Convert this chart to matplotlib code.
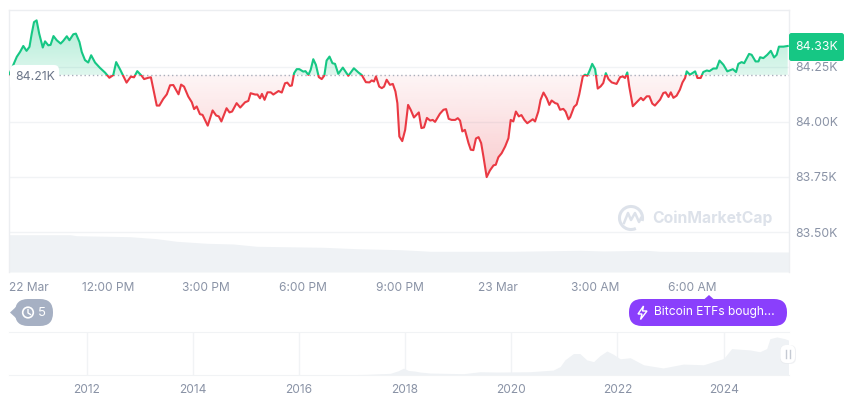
import matplotlib
matplotlib.use('Agg')
import matplotlib.pyplot as plt
from matplotlib.patches import FancyBboxPatch, Rectangle, Circle, Polygon, Arc
import numpy as np

plt.rcParams['font.family'] = ['Inter', 'DejaVu Sans']

# hours since 22 Mar 00:00, price in thousand USD
hours = [8.96,9.08,9.19,9.29,9.39,9.49,9.58,9.65,9.72,9.80,9.88,9.99,10.06,10.16,10.23,10.32,10.42,10.54,10.62,10.73,
         10.81,10.93,11.01,11.12,11.19,11.29,11.39,11.48,11.60,11.75,11.91,12.04,12.16,12.25,12.37,12.49,12.57,12.70,12.80,12.90,
         13.04,13.11,13.24,13.32,13.42,13.50,13.58,13.70,13.81,13.91,14.01,14.17,14.25,14.34,14.47,14.58,14.65,14.73,14.83,14.91,
         15.07,15.22,15.33,15.41,15.49,15.65,15.74,15.82,15.96,16.07,16.22,16.32,16.39,16.53,16.60,16.68,16.74,16.82,16.91,17.01,
         17.09,17.25,17.35,17.45,17.52,17.60,17.66,17.73,17.81,17.89,18.01,18.08,18.17,18.24,18.32,18.40,18.49,18.58,18.66,18.73,
         18.82,18.91,18.99,19.09,19.23,19.40,19.57,19.71,19.81,19.94,20.05,20.12,20.19,20.25,20.35,20.43,20.50,20.58,20.68,20.77,
         20.85,20.91,20.97,21.06,21.15,21.24,21.32,21.42,21.57,21.65,21.73,21.82,21.92,22.00,22.07,22.22,22.33,22.41,22.49,22.58,
         22.69,22.77,22.84,22.91,22.99,23.10,23.17,23.25,23.33,23.41,23.49,23.56,23.66,23.76,23.87,23.94,24.02,24.12,24.23,24.33,
         24.40,24.48,24.56,24.65,24.73,24.82,24.91,25.08,25.15,25.25,25.32,25.41,25.51,25.59,25.66,25.77,25.84,25.92,26.02,26.09,
         26.18,26.23,26.28,26.35,26.43,26.51,26.62,26.69,26.76,26.84,26.91,27.00,27.08,27.17,27.25,27.33,27.41,27.51,27.66,27.77,
         27.85,27.92,27.99,28.05,28.16,28.28,28.41,28.48,28.59,28.67,28.76,28.84,29.00,29.10,29.17,29.26,29.33,29.41,29.51,29.61,
         29.69,29.77,29.82,29.92,30.08,30.15,30.25,30.33,30.44,30.52,30.64,30.74,30.83,30.95,31.07,31.24,31.34,31.41,31.51,31.59,
         31.74,31.82,31.94,32.03,32.08,32.18,32.30,32.41,32.51,32.59,32.66,32.80,32.93]
prices = [84.215,84.256,84.294,84.316,84.343,84.321,84.339,84.399,84.451,84.459,84.399,84.336,84.364,84.346,84.348,84.388,84.369,84.354,84.366,84.387,
          84.369,84.396,84.399,84.361,84.316,84.279,84.268,84.301,84.268,84.244,84.222,84.199,84.211,84.270,84.237,84.201,84.177,84.204,84.201,84.229,
          84.207,84.193,84.199,84.201,84.129,84.073,84.073,84.103,84.124,84.165,84.166,84.124,84.168,84.159,84.114,84.088,84.057,84.069,84.034,84.031,
          83.982,84.051,84.028,84.024,84.001,84.061,84.042,84.046,84.084,84.064,84.088,84.094,84.129,84.123,84.123,84.106,84.126,84.099,84.133,84.133,
          84.123,84.139,84.132,84.174,84.177,84.162,84.164,84.220,84.238,84.238,84.227,84.229,84.212,84.235,84.283,84.258,84.202,84.193,84.209,84.277,
          84.295,84.265,84.262,84.217,84.245,84.208,84.242,84.223,84.212,84.179,84.178,84.187,84.182,84.205,84.159,84.152,84.159,84.190,84.167,84.171,
          84.137,84.084,83.933,83.912,83.963,84.076,84.054,84.019,84.042,83.971,83.974,84.017,84.005,84.008,83.999,84.036,84.054,84.057,84.013,84.008,
          84.008,84.016,84.005,83.956,83.963,83.903,83.873,83.871,83.924,83.930,83.903,83.842,83.749,83.779,83.802,83.805,83.839,83.857,83.888,83.925,
          84.008,84.001,84.046,84.024,84.030,84.008,83.993,84.011,84.001,84.046,84.099,84.132,84.106,84.076,84.096,84.084,84.081,84.054,84.058,84.046,
          84.011,84.020,84.040,84.067,84.078,84.123,84.205,84.213,84.208,84.235,84.262,84.238,84.150,84.160,84.175,84.220,84.193,84.178,84.171,84.202,
          84.205,84.198,84.223,84.160,84.070,84.088,84.108,84.097,84.115,84.115,84.082,84.073,84.100,84.130,84.133,84.112,84.133,84.108,84.118,84.145,
          84.178,84.198,84.228,84.213,84.228,84.198,84.198,84.225,84.232,84.229,84.241,84.241,84.277,84.258,84.228,84.238,84.225,84.262,84.270,84.265,
          84.307,84.303,84.273,84.273,84.292,84.288,84.303,84.321,84.291,84.303,84.340,84.340,84.343]
base_price = 84.212

volume_hours = [8.95,10.83,11.03,12.68,13.50,14.11,15.04,15.86,16.58,17.40,18.63,19.66,20.99,21.61,21.92,24.49,26.54,27.26,28.59,29.0,32.97]
volume = [37.3,37.3,36.3,35.3,33.3,30.7,28.7,28,25.7,25.3,24.7,23.3,22.3,21.3,20.7,20.7,21.7,21,21.7,20.7,20]

y_ticks = [84.25,84.0,83.75,83.5]
y_labels = ['84.25K','84.00K','83.75K','83.50K']
x_ticks = [9.57,12,15,18,21,24,27,30]
x_labels = ['22 Mar','12:00 PM','3:00 PM','6:00 PM','9:00 PM','23 Mar','3:00 AM','6:00 AM']

# long range navigator, price in thousand USD
nav_years = [2010.54,2016.65,2017.28,2017.72,2017.87,2017.97,2018.06,2018.19,2018.28,2018.47,2019.10,2019.41,2019.73,2020.35,2020.79,2020.92,2021.01,2021.17,2021.29,
             2021.42,2021.55,2021.67,2021.80,2021.92,2022.05,2022.24,2022.49,2022.86,2023.24,2023.62,2024.0,2024.15,2024.50,2024.68,2024.81,2024.87,2025.0,2025.15,2025.22]
nav_price = [0,0,1.9,4.7,12,19.5,13,11,8.4,5.6,3.7,9.3,8.4,9.3,14,24,43,61,61,
             43,38,55,68,59,46,49,29,20,31,29,47,75,71,66,75,103,108,103,99]
nav_ticks = [2012,2014,2016,2018,2020,2022,2024]

GREEN = '#16c784'
RED = '#ea3943'
GRAY = '#8a93a6'
GRID = '#f1f3f5'
W, H = 860, 401


def px_axes(x0, y0, x1, y1):
    return fig.add_axes([x0/W, 1-y1/H, (x1-x0)/W, (y1-y0)/H])


def gradient(ax, ylo, yhi, color, alo, ahi, clip):
    # vertical fade, alo at the bottom and ahi at the top
    rgb = matplotlib.colors.to_rgb(color)
    img = np.zeros((128, 1, 4))
    img[..., :3] = rgb
    img[..., 3] = np.linspace(ahi, alo, 128)[:, None]
    im = ax.imshow(img, extent=(ax.get_xlim()[0], ax.get_xlim()[1], ylo, yhi), aspect='auto', zorder=1)
    im.set_clip_path(clip.get_paths()[0], transform=ax.transData)


fig = plt.figure(figsize=(8.6,4.01), dpi=100)

# volume behind the price line
vol = px_axes(9, 232, 789, 272)
vol.fill_between(volume_hours, volume, 0, color='#eff2f5', lw=0)
vol.set_xlim(8.95,32.97)
vol.set_ylim(0,40)
vol.axis('off')

ax = px_axes(9, 10, 789, 272)
ax.patch.set_alpha(0)
xlim = (8.95,32.97)
ylim = (83.319,84.506)
ax.set_xlim(xlim)
ax.set_ylim(ylim)

p = np.array(prices)
up = ax.fill_between(hours, np.maximum(p, base_price), base_price, alpha=0, lw=0)
down = ax.fill_between(hours, np.minimum(p, base_price), base_price, alpha=0, lw=0)
gradient(ax, base_price, 84.46, GREEN, 0.14, 0.34, up)
gradient(ax, 83.75, base_price, RED, 0.26, 0.05, down)
ax.set_xlim(xlim)
ax.set_ylim(ylim)

ax.axhline(base_price, color='#a9afbb', lw=1, ls=(0,(1,2)), zorder=2)
line_up, = ax.plot(hours, prices, color=GREEN, lw=1.5, zorder=3, solid_joinstyle='round')
line_down, = ax.plot(hours, prices, color=RED, lw=1.5, zorder=3, solid_joinstyle='round')
line_up.set_clip_path(Rectangle((xlim[0],base_price), xlim[1]-xlim[0], ylim[1]-base_price, transform=ax.transData))
line_down.set_clip_path(Rectangle((xlim[0],ylim[0]), xlim[1]-xlim[0], base_price-ylim[0], transform=ax.transData))

ax.yaxis.tick_right()
ax.set_yticks(y_ticks)
ax.set_yticklabels(y_labels)
ax.set_xticks(x_ticks)
ax.set_xticklabels(x_labels)
ax.tick_params(axis='y', length=0, pad=4.5, labelsize=8.8, labelcolor=GRAY)
ax.tick_params(axis='x', length=0, pad=7, labelsize=8.6, labelcolor=GRAY)
ax.yaxis.grid(True, color=GRID, lw=1, zorder=0)
ax.set_axisbelow(True)
for s in ['top','left','right']:
    ax.spines[s].set_color('#eceef1')
    ax.spines[s].set_linewidth(1)
ax.spines['bottom'].set_visible(False)

# navigator
nav = px_axes(9, 332, 789, 375)
nav.fill_between(nav_years, nav_price, 0, color='#eff2f5', lw=0, zorder=1)
nav.set_xlim(2010.54,2025.23)
nav.set_ylim(0,122)
nav.set_yticks([])
nav.set_xticks(nav_ticks)
nav.set_xticklabels([str(t) for t in nav_ticks])
nav.tick_params(axis='x', length=0, pad=6.5, labelsize=8.6, labelcolor=GRAY)
nav.xaxis.grid(True, color=GRID, lw=1, zorder=0)
nav.set_axisbelow(True)
for s in ['left','right']:
    nav.spines[s].set_visible(False)
for s in ['top','bottom']:
    nav.spines[s].set_color(GRID)

# overlay in pixel coordinates for badges and the watermark
top = fig.add_axes([0,0,1,1], zorder=10)
top.set_xlim(0,W)
top.set_ylim(H,0)
top.axis('off')
top.patch.set_alpha(0)


def pill(x0, y0, x1, y1, r, color, **kw):
    top.add_patch(FancyBboxPatch((x0+r,y0+r), x1-x0-2*r, y1-y0-2*r, boxstyle='round,pad=%f,rounding_size=%f' % (r,r),
                                 fc=color, ec='none', **kw))


# current price
pill(789, 33, 844, 61, 2.5, GREEN)
top.text(816.5, 47, '84.33K', color='white', fontsize=8.8, ha='center', va='center')

# open price
pill(10, 65, 59, 90, 5, 'white')
top.text(15, 76.5, '84.21K', color='#6b7588', fontsize=8.8, ha='left', va='center')

# watermark
WM = '#dde2ea'
top.add_patch(Arc((631,218), 23, 23, theta1=65, theta2=15, color=WM, lw=2.2))
top.plot([624,628,631,635,639,641], [223,213,220,213,222,218], color=WM, lw=1.8)
top.text(652.5, 218, 'CoinMarketCap', color=WM, fontsize=11.3, fontweight='bold', ha='left', va='center')

# history pill
pill(15, 299, 53, 326, 13, '#a6b0c3')
top.add_patch(Polygon([(10,312.5),(17,306),(17,319)], fc='#a6b0c3', ec='none'))
top.add_patch(Circle((28,312.5), 5.3, fc='none', ec='white', lw=1.2))
top.plot([28,28,30.5], [309.5,313,314.5], color='white', lw=1)
top.text(42, 312.5, '5', color='white', fontsize=9.4, ha='center', va='center')

# news pill
pill(629, 299, 787, 326, 13, '#8a3ffc')
top.add_patch(Polygon([(704,299.5),(709,295),(714,299.5)], fc='#8a3ffc', ec='none'))
top.add_patch(Polygon([(643.5,306),(638,314),(642,314),(640.5,319.5),(647,311),(642.5,311)], fc='none', ec='white', lw=1))
top.text(653.5, 312.5, 'Bitcoin ETFs bough...', color='white', fontsize=8.7, ha='left', va='center')

# navigator handle
pill(780, 345, 796, 364, 6, '#e9ebef', alpha=0.7, zorder=4)
pill(780.5, 345, 795, 363, 6, 'white', zorder=5)
top.plot([786,786], [350,358], color='#c5cad3', lw=1, zorder=6)
top.plot([789.5,789.5], [350,358], color='#c5cad3', lw=1, zorder=6)

fig.savefig('out.png', dpi=100)
